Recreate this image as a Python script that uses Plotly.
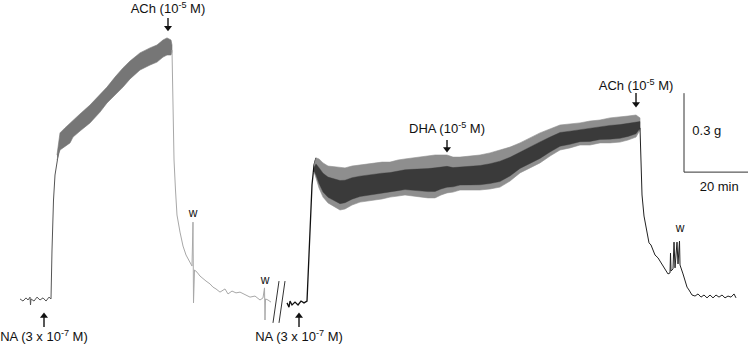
import plotly.graph_objects as go

# ---------------- data (time in min, tension in g) ----------------
# first NA contraction: baseline + rise
base1_t = [6.25, 7.19, 8.13, 8.75, 9.38, 9.53, 9.69, 10.63, 11.56, 12.5, 13.44, 14.38, 15.31, 15.94,
           16.25, 16.72, 17.19, 17.81, 18.44]
base1_g = [0.004, -0.004, 0.008, 0.0, 0.011, -0.019, 0.004, -0.004, 0.011, 0.0, 0.008, -0.004, 0.011, 0.004,
           0.19, 0.38, 0.475, 0.532, 0.57]

# first contraction: oscillating band (upper / lower envelope)
band1_t = [17.81, 18.75, 20.31, 21.88, 22.81, 25.0, 28.13, 31.25, 33.44, 35.94, 38.44, 40.63, 43.75,
           46.88, 49.06, 50.94, 52.19, 53.44, 53.75]
band1_top = [0.551, 0.635, 0.654, 0.673, 0.684, 0.707, 0.741, 0.779, 0.809, 0.847, 0.882, 0.908, 0.939,
             0.958, 0.969, 0.988, 0.996, 0.988, 0.969]
band1_bot = [0.532, 0.57, 0.585, 0.597, 0.619, 0.642, 0.673, 0.714, 0.749, 0.779, 0.809, 0.84, 0.874,
             0.893, 0.904, 0.923, 0.931, 0.931, 0.942]

# relaxation after ACh and washes
decay1_t = [53.75, 54.06, 54.38, 54.84, 55.31, 56.25, 57.19, 58.13, 59.06, 60.0, 60.31, 60.47, 60.78,
            61.56, 62.5, 63.44, 64.38, 65.63, 66.56, 67.5, 68.75, 70.31, 71.25, 72.5, 73.75, 75.0,
            76.56, 78.13, 79.69, 81.25, 82.19, 82.66, 82.81, 82.97, 83.75, 84.69]
decay1_g = [0.95, 0.684, 0.532, 0.418, 0.323, 0.258, 0.205, 0.171, 0.148, 0.129, 0.296, -0.011, 0.114,
            0.106, 0.091, 0.08, 0.072, 0.061, 0.049, 0.042, 0.03, 0.042, 0.023, 0.034, 0.027, 0.03,
            0.019, 0.011, 0.015, 0.0, 0.008, 0.046, -0.076, 0.004, 0.0, -0.008]

# axis break marks
break_t = [[85.31, 87.19], [87.19, 89.06]]
break_g = [[-0.087, 0.072], [-0.087, 0.072]]

# second NA contraction: baseline + rise
base2_t = [89.69, 90.31, 90.63, 91.25, 92.19, 93.13, 94.06, 95.0, 95.94, 96.56, 97.03, 97.5, 98.13, 98.75]
base2_g = [-0.011, -0.027, -0.004, -0.019, -0.008, -0.019, -0.004, -0.011, -0.004, 0.19, 0.35, 0.437,
           0.513, 0.54]

# second contraction (DHA period): band
band2_t = [98.13, 98.75, 99.69, 100.94, 102.5, 104.69, 106.25, 107.81, 110.0, 112.5, 114.69, 117.19,
           119.38, 121.88, 124.38, 126.56, 128.75, 131.25, 133.75, 135.94, 137.81, 139.69, 141.56,
           143.75, 146.88, 150.0, 153.13, 156.25, 159.38, 162.5, 165.63, 168.75, 171.88, 175.0,
           178.13, 181.25, 184.38, 187.5, 190.63, 193.75, 196.25, 198.75, 200.0]
band2_top = [0.513, 0.54, 0.536, 0.521, 0.509, 0.505, 0.502, 0.502, 0.509, 0.513, 0.517, 0.521,
             0.524, 0.524, 0.532, 0.536, 0.54, 0.543, 0.547, 0.551, 0.551, 0.551, 0.543,
             0.543, 0.547, 0.551, 0.559, 0.57, 0.581, 0.597, 0.616, 0.635, 0.65, 0.665,
             0.669, 0.673, 0.68, 0.684, 0.692, 0.695, 0.699, 0.703, 0.692]
band2_bot = [0.486, 0.464, 0.426, 0.391, 0.369, 0.353, 0.342, 0.346, 0.361, 0.372, 0.376, 0.38,
             0.384, 0.391, 0.395, 0.399, 0.395, 0.391, 0.388, 0.388, 0.399, 0.407, 0.41,
             0.418, 0.418, 0.418, 0.422, 0.429, 0.452, 0.483, 0.502, 0.521, 0.547, 0.57,
             0.578, 0.589, 0.589, 0.597, 0.597, 0.6, 0.608, 0.619, 0.646]

# relaxation after second ACh and washes
decay2_t = [200.0, 200.31, 200.63, 201.25, 202.19, 202.81, 203.44, 204.69, 205.63, 206.56, 207.19,
            208.13, 208.75, 209.38, 209.53, 209.69, 210.31, 210.63, 210.94, 211.56, 211.88,
            212.34, 212.5, 213.44, 214.69, 215.31, 216.25, 217.19, 218.13, 219.06, 220.0, 220.94,
            221.88, 222.81, 223.75, 224.69, 225.63, 226.56, 227.5, 228.44, 229.38, 230.0]
decay2_g = [0.654, 0.475, 0.399, 0.319, 0.247, 0.217, 0.209, 0.171, 0.16, 0.141, 0.133,
            0.11, 0.099, 0.103, 0.178, 0.11, 0.118, 0.22, 0.122, 0.22, 0.137,
            0.224, 0.133, 0.099, 0.049, 0.038, 0.019, 0.015, 0.023, 0.011, 0.019, 0.008,
            0.019, 0.008, 0.019, 0.011, 0.019, 0.008, 0.015, 0.011, 0.023, 0.008]

# scale bar
scale_t0, scale_g0 = 213.75, 0.486
scale_dt, scale_dg = 20, 0.3

# drug additions: (label, time, arrow tail g, arrow tip g, label g, direction)
events = [
    ("ACh (10<sup>-5</sup> M)", 52.5, 1.072, 1.023, 1.102, "down"),
    ("DHA (10<sup>-5</sup> M)", 139.69, 0.608, 0.562, 0.646, "down"),
    ("ACh (10<sup>-5</sup> M)", 198.75, 0.787, 0.733, 0.809, "down"),
    ("NA (3 x 10<sup>-7</sup> M)", 13.75, -0.103, -0.049, -0.144, "up"),
    ("NA (3 x 10<sup>-7</sup> M)", 93.44, -0.103, -0.049, -0.144, "up"),
]
wash_t = [60.31, 82.81, 212.5]
wash_g = [0.327, 0.072, 0.27]

# ---------------- figure ----------------
FONT = "Arial"
GPX = 0.0038  # g per pixel, used only to offset arrow heads
fig = go.Figure()

def band(t, top, bot, color, lw=0.6):
    fig.add_trace(go.Scatter(x=list(t) + list(t)[::-1], y=list(top) + list(bot)[::-1],
                             fill="toself", fillcolor=color, mode="lines",
                             line=dict(color=color, width=lw), hoverinfo="skip"))

fig.add_trace(go.Scatter(x=base1_t, y=base1_g, mode="lines", line=dict(color="#555", width=1)))
band(band1_t, band1_top, band1_bot, "#767676")
fig.add_trace(go.Scatter(x=decay1_t, y=decay1_g, mode="lines", line=dict(color="#a8a8a8", width=1)))
for bt, bg in zip(break_t, break_g):
    fig.add_trace(go.Scatter(x=bt, y=bg, mode="lines", line=dict(color="#333", width=1)))
fig.add_trace(go.Scatter(x=base2_t, y=base2_g, mode="lines", line=dict(color="#111", width=1.3)))

band(band2_t, band2_top, band2_bot, "#8e8e8e")
core_top = [tp - 0.3 * (tp - b) for tp, b in zip(band2_top, band2_bot)]
core_bot = [b + 0.15 * (tp - b) for tp, b in zip(band2_top, band2_bot)]
band(band2_t, core_top, core_bot, "#3a3a3a", lw=0.4)
fig.add_trace(go.Scatter(x=decay2_t, y=decay2_g, mode="lines", line=dict(color="#222", width=1)))

# scale bar
fig.add_trace(go.Scatter(x=[scale_t0, scale_t0, scale_t0 + scale_dt],
                         y=[scale_g0 + scale_dg, scale_g0, scale_g0],
                         mode="lines", line=dict(color="#333", width=1)))

# event arrows
for lbl, t, tail, tip, lg, d in events:
    sgn = 1 if d == "down" else -1
    head_c = tip + sgn * 3 * GPX
    fig.add_trace(go.Scatter(x=[t, t], y=[tail, head_c], mode="lines",
                             line=dict(color="#111", width=1.4), hoverinfo="skip"))
    fig.add_trace(go.Scatter(x=[t], y=[head_c], mode="markers",
                             marker=dict(symbol="triangle-" + d, size=7, color="#111",
                                         line=dict(width=0)), hoverinfo="skip"))

# labels as text traces
fig.add_trace(go.Scatter(x=[e[1] for e in events], y=[e[4] for e in events],
                         text=[e[0] for e in events], mode="text", textposition="middle center",
                         textfont=dict(family=FONT, size=13, color="#111"), hoverinfo="skip"))
fig.add_trace(go.Scatter(x=wash_t, y=wash_g, text=["w"] * len(wash_t), mode="text",
                         textposition="middle center",
                         textfont=dict(family=FONT, size=12, color="#111"), hoverinfo="skip"))
fig.add_trace(go.Scatter(x=[scale_t0 + 2.6], y=[scale_g0 + 0.152], text=["0.3 g"], mode="text",
                         textposition="middle right",
                         textfont=dict(family=FONT, size=13, color="#111"), hoverinfo="skip"))
fig.add_trace(go.Scatter(x=[scale_t0 + 11], y=[scale_g0 - 0.06], text=["20 min"], mode="text",
                         textposition="middle center",
                         textfont=dict(family=FONT, size=13, color="#111"), hoverinfo="skip"))

fig.update_layout(
    width=749, height=350, margin=dict(l=0, r=0, t=0, b=0),
    paper_bgcolor="white", plot_bgcolor="white", showlegend=False,
    font=dict(family=FONT, size=13, color="#111"),
    xaxis=dict(range=[0, 234.06], visible=False, fixedrange=True),
    yaxis=dict(range=[-0.19, 1.14], visible=False, fixedrange=True),
)
fig.write_html("out.html", config={"displayModeBar": False},
               post_script="document.body.style.margin='0';document.body.style.overflow='hidden';")
